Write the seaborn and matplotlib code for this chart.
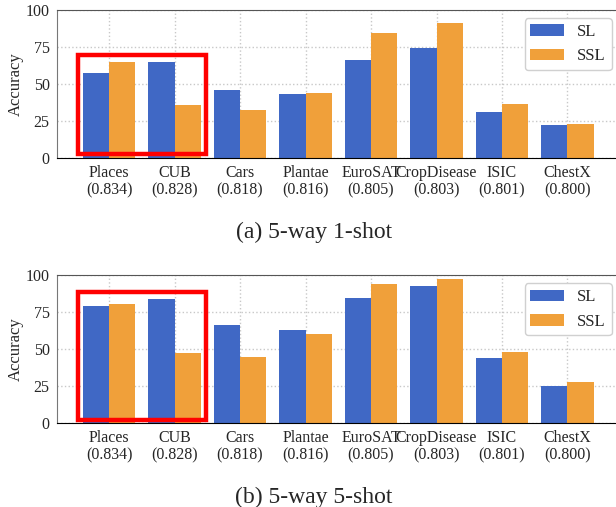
import seaborn as sns
import matplotlib.pyplot as plt
import matplotlib.patches as patches
import matplotlib.transforms as mtransforms
import pandas as pd
import numpy as np

datasets = ['Places', 'CUB', 'Cars', 'Plantae', 'EuroSAT', 'CropDisease', 'ISIC', 'ChestX']
scores = ['0.834', '0.828', '0.818', '0.816', '0.805', '0.803', '0.801', '0.800']
methods = ['SL', 'SSL']

# 5-way 1-shot
sl_1shot = [57.4, 64.9, 45.9, 43.2, 66.2, 74.3, 31.1, 22.3]
ssl_1shot = [64.9, 35.8, 32.4, 43.9, 84.5, 91.2, 36.5, 23.0]

# 5-way 5-shot
sl_5shot = [78.9, 83.6, 66.1, 62.7, 84.3, 92.4, 43.8, 24.9]
ssl_5shot = [80.2, 47.2, 44.5, 60.0, 93.7, 97.1, 47.9, 27.6]

colors = ['#4068C5', '#F0A03A']

sns.set_style('white')
plt.rcParams['font.family'] = ['Liberation Serif', 'DejaVu Serif']

ticklabels = [f'{d}\n({s})' for d, s in zip(datasets, scores)]
# small sideways nudges (points) so the long neighbouring labels do not collide
label_nudge = [0, 0, 0, 0, -2.5, 2.5, 0.5, 0]


def make_df(sl, ssl):
    rows = []
    for d, a, b in zip(datasets, sl, ssl):
        rows.append({'dataset': d, 'method': 'SL', 'acc': a})
        rows.append({'dataset': d, 'method': 'SSL', 'acc': b})
    return pd.DataFrame(rows)


fig = plt.figure(figsize=(6.16, 5.07), dpi=100)
ax1 = fig.add_axes([0.092, 0.6884, 0.9143, 0.2919])
ax2 = fig.add_axes([0.092, 0.165, 0.9143, 0.2925])

panels = [(ax1, sl_1shot, ssl_1shot, 67.0), (ax2, sl_5shot, ssl_5shot, 86.3)]
for ax, sl, ssl, boxh in panels:
    df = make_df(sl, ssl)
    sns.barplot(data=df, x='dataset', y='acc', hue='method', hue_order=methods,
                palette=colors, saturation=1, width=0.8, linewidth=0, ax=ax)
    ax.set_xlim(-0.8, 7.8)
    ax.set_ylim(0, 100)
    ax.set_yticks([0, 25, 50, 75, 100])
    ax.set_xticks(range(len(datasets)))
    ax.set_xticklabels(ticklabels, fontsize=11.5, linespacing=1.1)
    for lab, dx in zip(ax.get_xticklabels(), label_nudge):
        lab.set_transform(lab.get_transform() +
                          mtransforms.ScaledTranslation(dx / 72, 0, fig.dpi_scale_trans))
    ax.tick_params(axis='y', labelsize=11.5, length=3, width=0.8, pad=2)
    ax.tick_params(axis='x', length=3, width=0.8, pad=2)
    ax.set_xlabel('')
    ax.set_ylabel('Accuracy', fontsize=12, labelpad=1)
    ax.set_axisbelow(True)
    ax.grid(True, linestyle=':', color='#c8c8c8', linewidth=1)
    ax.spines['top'].set_color('#555555')
    ax.spines['left'].set_color('#777777')
    ax.spines['bottom'].set_color('black')
    ax.spines['right'].set_visible(False)
    ax.add_patch(patches.Rectangle((-0.48, 2.4), 1.96, boxh, fill=False,
                                   edgecolor='red', linewidth=3.2, zorder=5))
    ax.legend(loc='upper right', fontsize=12, frameon=True, fancybox=True,
              edgecolor='#d0d0d0', framealpha=1, title=None, borderpad=0.35)

fig.text(0.51, 0.5424, '(a) 5-way 1-shot', ha='center', va='center', fontsize=17)
fig.text(0.51, 0.0197, '(b) 5-way 5-shot', ha='center', va='center', fontsize=17)

plt.savefig('out.png', dpi=100)
